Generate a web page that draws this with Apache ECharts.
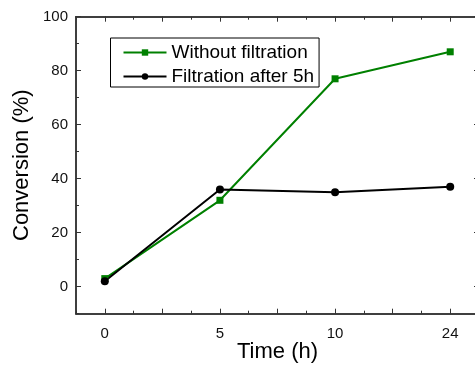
<!DOCTYPE html>
<html>
<head>
<meta charset="utf-8">
<script src="https://cdn.jsdelivr.net/npm/echarts@6/dist/echarts.min.js"></script>
<style>html,body{margin:0;padding:0;background:#fff}#c{width:475px;height:366px}</style>
</head>
<body>
<div id="c"></div>
<script>
var categories = ['0', '5', '10', '24'];
var withoutFiltration = [3, 32, 77, 87];
var filtrationAfter5h = [2, 36, 35, 37];
var yLabelValues = [0, 20, 40, 60, 80, 100];
var xMajorTicks = [0, 0.5, 1, 1.5, 2, 2.5, 3];

var FONT = '"Liberation Sans", Arial, sans-serif';
var AX = '#333';

function pairs(vals) { return vals.map(function (v, i) { return [i, v]; }); }

function xAxisBase(pos, extra) {
  var o = {
    type: 'value', position: pos, min: -0.25, max: 3.25, interval: 0.25,
    axisLine: { show: true, onZero: false, lineStyle: { color: AX, width: 1.5 } },
    axisTick: { show: true, inside: true, length: 3, lineStyle: { color: AX, width: 1 } },
    axisLabel: { show: false }, splitLine: { show: false }
  };
  for (var k in extra) o[k] = extra[k];
  return o;
}
function yAxisBase(pos, extra) {
  var o = {
    type: 'value', position: pos, min: -10, max: 100, interval: 10,
    axisLine: { show: true, onZero: false, lineStyle: { color: AX, width: 1.5 } },
    axisTick: { show: true, inside: true, length: 3, lineStyle: { color: AX, width: 1 } },
    axisLabel: { show: false }, splitLine: { show: false }
  };
  for (var k in extra) o[k] = extra[k];
  return o;
}

var chart = echarts.init(document.getElementById('c'), null, { renderer: 'canvas' });
chart.setOption({
  animation: false,
  backgroundColor: '#fff',
  grid: { left: 76, top: 16.7, width: 403, height: 297, containLabel: false, outerBoundsMode: 'none' },
  textStyle: { fontFamily: FONT },
  xAxis: [
    xAxisBase('bottom', {
      name: 'Time (h)', nameLocation: 'middle', nameGap: 27, nameMoveOverlap: false,
      nameTextStyle: { fontSize: 22, color: '#000', fontFamily: FONT },
      axisLabel: {
        show: true, margin: 13, fontSize: 15, color: '#111', fontFamily: FONT,
        customValues: [0, 1, 2, 3],
        formatter: function (v) { return categories[Math.round(v)]; }
      }
    }),
    xAxisBase('bottom', {
      axisTick: { show: true, inside: true, length: 5, customValues: xMajorTicks, lineStyle: { color: AX, width: 1 } }
    }),
    xAxisBase('top', {}),
    xAxisBase('top', {
      axisTick: { show: true, inside: true, length: 5, customValues: xMajorTicks, lineStyle: { color: AX, width: 1 } }
    })
  ],
  yAxis: [
    yAxisBase('left', {
      name: 'Conversion (%)', nameLocation: 'middle', nameGap: 43, nameRotate: 90, nameMoveOverlap: false,
      nameTextStyle: { fontSize: 22, color: '#000', fontFamily: FONT },
      axisLabel: {
        show: true, margin: 8, fontSize: 15, color: '#111', fontFamily: FONT,
        customValues: yLabelValues
      }
    }),
    yAxisBase('left', {
      axisTick: { show: true, inside: true, length: 5, customValues: yLabelValues, lineStyle: { color: AX, width: 1 } }
    }),
    yAxisBase('right', {}),
    yAxisBase('right', {
      axisTick: { show: true, inside: true, length: 5, customValues: yLabelValues, lineStyle: { color: AX, width: 1 } }
    })
  ],
  legend: {
    orient: 'vertical', left: 110.5, top: 38,
    padding: [5, 5, 1, 12], itemGap: 5,
    itemWidth: 43, itemHeight: 8,
    borderColor: '#000', borderWidth: 1,
    textStyle: { fontSize: 19, color: '#000', fontFamily: FONT, lineHeight: 18 },
    data: ['Without filtration', 'Filtration after 5h']
  },
  series: [
    {
      name: 'Without filtration', type: 'line', xAxisIndex: 0, yAxisIndex: 0,
      data: pairs(withoutFiltration),
      symbol: 'rect', symbolSize: 7,
      itemStyle: { color: '#008000' },
      lineStyle: { color: '#008000', width: 2 }
    },
    {
      name: 'Filtration after 5h', type: 'line', xAxisIndex: 0, yAxisIndex: 0,
      data: pairs(filtrationAfter5h),
      symbol: 'circle', symbolSize: 8,
      itemStyle: { color: '#000' },
      lineStyle: { color: '#000', width: 2 }
    }
  ]
});
</script>
</body>
</html>
